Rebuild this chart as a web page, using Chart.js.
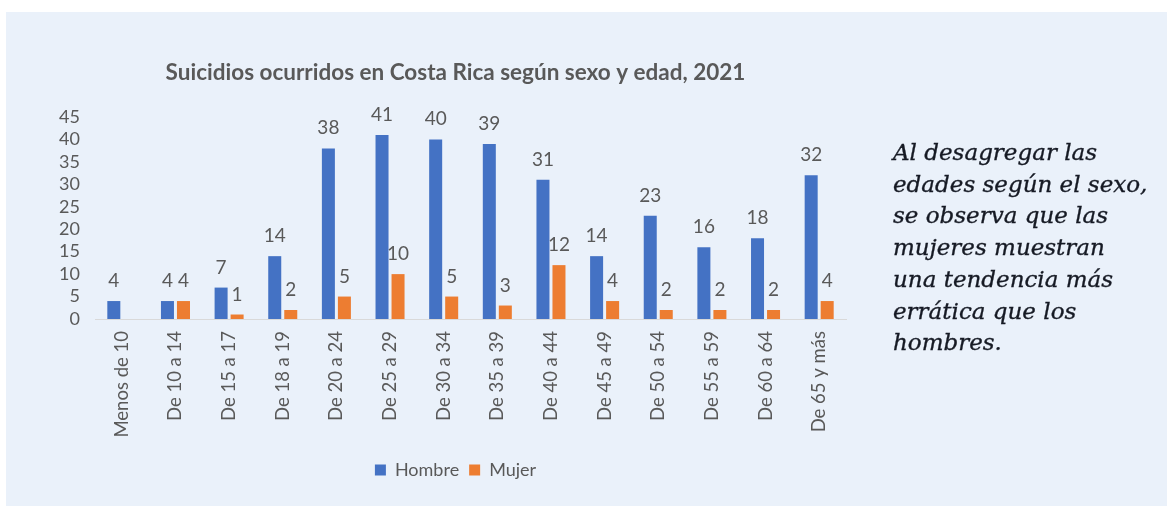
<!DOCTYPE html>
<html lang="es">
<head>
<meta charset="utf-8">
<title>Suicidios ocurridos en Costa Rica según sexo y edad, 2021</title>
<script src="https://cdn.jsdelivr.net/npm/chart.js@4.4.1/dist/chart.umd.min.js"></script>
<style>
  html, body { margin: 0; padding: 0; background: #ffffff; }
  body { width: 1167px; height: 506px; position: relative; overflow: hidden; }
  #panel {
    position: absolute; left: 6px; top: 12px; right: 0; bottom: 0;
    background: #eaf1fa;
  }
  #chartBox { position: absolute; left: 0; top: 0; width: 899px; height: 494px; }
  #nota {
    position: absolute; left: 887px; top: 125px;
    font-family: "DejaVu Serif", serif; font-style: italic;
    font-size: 23px; line-height: 31.7px; color: #161a24;
    -webkit-text-stroke: 0.35px #161a24;
    white-space: nowrap;
  }
</style>
</head>
<body>
<div id="panel">
  <div id="chartBox"><canvas id="suicidios"></canvas></div>
  <div id="nota">Al desagregar las<br>edades según el sexo,<br>se observa que las<br>mujeres muestran<br>una tendencia más<br>errática que los<br>hombres.</div>
</div>
<script>
const grupos = ['Menos de 10', 'De 10 a 14', 'De 15 a 17', 'De 18 a 19', 'De 20 a 24',
  'De 25 a 29', 'De 30 a 34', 'De 35 a 39', 'De 40 a 44', 'De 45 a 49',
  'De 50 a 54', 'De 55 a 59', 'De 60 a 64', 'De 65 y más'];
const hombres = [4, 4, 7, 14, 38, 41, 40, 39, 31, 14, 23, 16, 18, 32];
const mujeres = [null, 4, 1, 2, 5, 10, 5, 3, 12, 4, 2, 2, 2, 4];
const ticksY = [0, 5, 10, 15, 20, 25, 30, 35, 40, 45];

const gris = '#595959';

// numbers above each bar
const etiquetas = {
  id: 'etiquetas',
  afterDatasetsDraw(chart) {
    const ctx = chart.ctx;
    ctx.save();
    ctx.font = '19px Lato';
    ctx.fillStyle = gris;
    ctx.textAlign = 'center';
    ctx.textBaseline = 'alphabetic';
    chart.data.datasets.forEach((ds, i) => {
      chart.getDatasetMeta(i).data.forEach((bar, j) => {
        const v = ds.data[j];
        if (v === null) return;
        ctx.fillText(String(v), bar.x, bar.y - 14);
      });
    });
    ctx.restore();
  }
};

new Chart(document.getElementById('suicidios'), {
  type: 'bar',
  data: {
    labels: grupos,
    datasets: [
      { label: 'Hombre', data: hombres, backgroundColor: '#4472c4' },
      { label: 'Mujer', data: mujeres, backgroundColor: '#ed7d31' }
    ]
  },
  options: {
    responsive: true,
    maintainAspectRatio: false,
    animation: false,
    categoryPercentage: 0.597,
    barPercentage: 0.8125,
    layout: { padding: { left: 0, right: 0, top: 0, bottom: 17 } },
    plugins: {
      title: {
        display: true,
        text: 'Suicidios ocurridos en Costa Rica según sexo y edad, 2021',
        color: gris,
        font: { family: 'Lato', size: 22.5, weight: 'bold' },
        padding: { top: 47.5, bottom: 30.5 }
      },
      legend: {
        position: 'bottom',
        labels: {
          color: gris,
          font: { family: 'Lato', size: 18 },
          boxWidth: 11,
          boxHeight: 11,
          padding: 10
        }
      },
      tooltip: { enabled: false }
    },
    scales: {
      x: {
        grid: { display: false, drawTicks: false },
        border: { color: '#d9d9d9' },
        ticks: {
          color: gris,
          font: { family: 'Lato', size: 18.5 },
          minRotation: 90,
          maxRotation: 90,
          autoSkip: false,
          padding: 12
        },
        afterFit(scale) { scale.height = 132; }
      },
      y: {
        min: 0,
        max: 45,
        grid: { display: false, drawTicks: false },
        border: { display: false },
        afterBuildTicks(scale) { scale.ticks = ticksY.map(v => ({ value: v })); },
        ticks: {
          color: gris,
          font: { family: 'Lato', size: 18 },
          autoSkip: false,
          padding: 15
        },
        afterFit(scale) { scale.width = 89; }
      },
      // empty strip on the right so title and legend stay centred on the canvas
      margen: {
        type: 'linear',
        position: 'right',
        grid: { display: false, drawTicks: false },
        border: { display: false },
        ticks: { display: false },
        afterFit(scale) { scale.width = 59; }
      }
    }
  },
  plugins: [etiquetas]
});
</script>
</body>
</html>
